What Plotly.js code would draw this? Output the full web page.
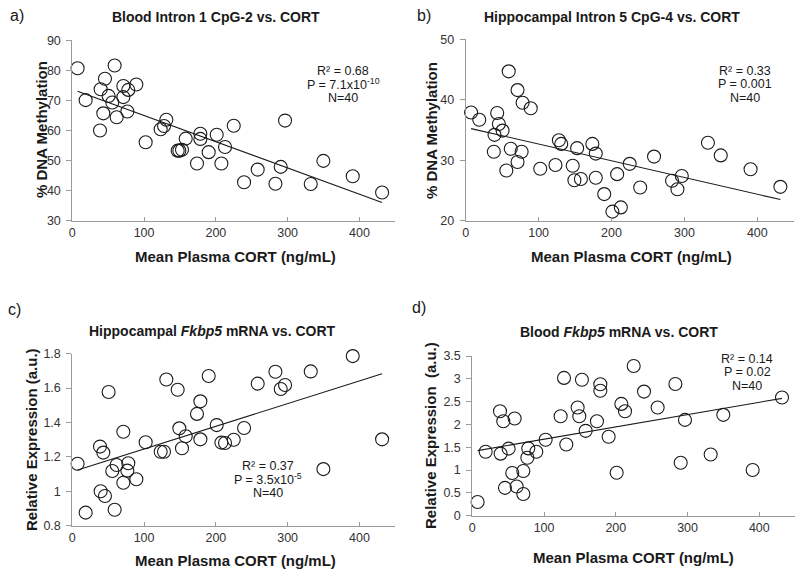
<!DOCTYPE html>
<html>
<head>
<meta charset="utf-8">
<script src="https://cdn.plot.ly/plotly-3.0.1.min.js"></script>
<style>html,body{margin:0;padding:0;background:#fff;}#chart{width:800px;height:574px;}</style>
</head>
<body>
<div id="chart"></div>
<script>
// Mean plasma CORT (ng/mL), shared by all panels
const cort = [7.4, 18.6, 38.6, 39.5, 43.2, 45.5, 50.6, 55.7, 59.0, 61.8, 71.1, 71.1, 76.7, 78.0, 89.2, 102.2, 123.1, 127.8, 131.0, 146.8, 149.1, 152.8, 158.0, 173.7, 178.4, 178.4, 190.0, 201.2, 207.7, 212.8, 224.9, 239.3, 258.3, 283.0, 290.4, 296.4, 332.2, 349.8, 390.7, 431.6];

// a) Blood Intron 1 CpG-2 % DNA methylation
const bloodIntron1 = [80.7, 70.1, 60.0, 73.7, 65.7, 77.2, 71.5, 69.3, 81.6, 64.4, 71.1, 74.8, 66.3, 73.5, 75.3, 56.1, 60.4, 61.5, 63.6, 53.3, 53.3, 53.6, 57.3, 49.0, 58.9, 57.2, 52.8, 58.6, 49.0, 54.5, 61.6, 42.8, 47.0, 42.3, 47.9, 63.3, 42.2, 49.9, 44.8, 39.4];

// b) Hippocampal Intron 5 CpG-4 % DNA methylation
const hippoIntron5 = [37.9, 36.7, 31.4, 34.2, 37.8, 36.0, 34.9, 28.3, 44.7, 31.9, 41.6, 29.7, 31.4, 39.5, 38.6, 28.6, 29.2, 33.3, 32.7, 29.1, 26.7, 32.0, 26.9, 32.7, 31.1, 27.1, 24.4, 21.5, 27.7, 22.2, 29.4, 25.5, 30.6, 26.6, 25.2, 27.4, 32.9, 30.8, 28.5, 25.6];

// c) Hippocampal Fkbp5 mRNA relative expression
const hippoFkbp5 = [1.16, 0.876, 1.26, 1.0, 1.225, 0.973, 1.577, 1.118, 0.893, 1.153, 1.346, 1.05, 1.12, 1.163, 1.07, 1.285, 1.23, 1.23, 1.65, 1.59, 1.366, 1.25, 1.32, 1.45, 1.523, 1.302, 1.67, 1.385, 1.283, 1.281, 1.3, 1.368, 1.626, 1.695, 1.595, 1.618, 1.697, 1.129, 1.786, 1.302];

// d) Blood Fkbp5 mRNA relative expression
const bloodFkbp5 = [0.30, 1.40, 2.29, 1.36, 2.07, 0.61, 1.47, 0.935, 2.13, 0.64, 0.98, 0.475, 1.27, 1.475, 1.40, 1.665, 2.18, 3.02, 1.56, 2.37, 2.18, 2.98, 1.86, 2.07, 2.88, 2.74, 1.73, 0.94, 2.45, 2.29, 3.28, 2.72, 2.37, 2.885, 1.16, 2.10, 1.34, 2.21, 1.0, 2.59];

const panelLabels = ["a)", "b)", "c)", "d)"];
const panelTitles = ["Blood Intron 1 CpG-2 vs. CORT", "Hippocampal Intron 5 CpG-4 vs. CORT", "Hippocampal <i>Fkbp5</i> mRNA vs. CORT", "Blood <i>Fkbp5</i> mRNA vs. CORT"];
const yTitles = ["% DNA Methylation", "% DNA Methylation", "Relative Expression (a.u.)", "Relative Expression&nbsp; (a.u.)"];
const xTitle = "Mean Plasma CORT (ng/mL)";
const rSquared = ["R² = 0.68", "R² = 0.33", "R² = 0.37", "R² = 0.14"];
const pValues = ["P = 7.1x10<sup>-10</sup>", "P = 0.001", "P = 3.5x10<sup>-5</sup>", "P = 0.02"];
const nText = ["N=40", "N=40", "N=40", "N=40"];
const yRanges = [[30, 90], [20, 50], [0.8, 1.8], [0, 3.5]];
const yDticks = [10, 10, 0.2, 0.5];
const xRange = [0, 450];

const series = [bloodIntron1, hippoIntron5, hippoFkbp5, bloodFkbp5];

const W = 800, H = 574;
const fx = v => v / W;
const fy = v => 1 - v / H;
const FONT = "Liberation Sans, Arial, Helvetica, sans-serif";

// panel geometry (pixels)
const geom = [
  {x0: 72.3, x1: 395.3, y0: 40.3, y1: 220.7, title: [216, 17], label: [17, 15], ytl: [41, 130], xtl: [235, 256], stats: [343, 71]},
  {x0: 465.7, x1: 793.8, y0: 39.3, y1: 220.7, title: [612, 17], label: [424, 15], ytl: [431, 130], xtl: [631, 256], stats: [745, 71]},
  {x0: 72.3, x1: 395.3, y0: 353.7, y1: 525.7, title: [212, 331], label: [14, 309], ytl: [31, 440], xtl: [235, 560], stats: [268, 466]},
  {x0: 472.3, x1: 795.2, y0: 356, y1: 515.7, title: [619, 332], label: [419, 307], ytl: [430, 436], xtl: [633, 557], stats: [747, 359]}
];

function fit(x, y) {
  const n = x.length;
  let sx = 0, sy = 0, sxx = 0, sxy = 0;
  for (let i = 0; i < n; i++) { sx += x[i]; sy += y[i]; sxx += x[i]*x[i]; sxy += x[i]*y[i]; }
  const b = (n*sxy - sx*sy) / (n*sxx - sx*sx);
  const a = (sy - b*sx) / n;
  return [a, b];
}

const data = [];
const layout = {
  width: W, height: H,
  margin: {l: 0, r: 0, t: 0, b: 0},
  paper_bgcolor: "#fff", plot_bgcolor: "#fff",
  showlegend: false,
  font: {family: FONT, color: "#222"},
  annotations: []
};

series.forEach((ys, i) => {
  const k = i === 0 ? "" : String(i + 1);
  const xa = "x" + k, ya = "y" + k;
  data.push({
    type: "scatter", mode: "markers", x: cort, y: ys, xaxis: xa, yaxis: ya,
    cliponaxis: false,
    marker: {symbol: "circle-open", size: 13, color: "#1a1a1a", line: {width: 1.1}},
    hoverinfo: "x+y"
  });
  const [a, b] = fit(cort, ys);
  const xmin = Math.min(...cort), xmax = Math.max(...cort);
  data.push({
    type: "scatter", mode: "lines", x: [xmin, xmax], y: [a + b*xmin, a + b*xmax],
    xaxis: xa, yaxis: ya, line: {color: "#1a1a1a", width: 1.1}, hoverinfo: "skip"
  });
  const g = geom[i];
  layout["xaxis" + k] = {
    domain: [fx(g.x0), fx(g.x1)], range: xRange, anchor: ya,
    tick0: 0, dtick: 100, showgrid: false, zeroline: false,
    showline: true, linecolor: "#9a9a9a", linewidth: 1,
    ticks: "inside", ticklen: 4, tickcolor: "#9a9a9a",
    tickfont: {family: FONT, size: 12.5, color: "#333"}
  };
  layout["yaxis" + k] = {
    domain: [fy(g.y1), fy(g.y0)], range: yRanges[i], anchor: xa,
    tick0: 0, dtick: yDticks[i], showgrid: false, zeroline: false,
    showline: true, linecolor: "#9a9a9a", linewidth: 1,
    ticks: "outside", ticklen: 5, tickcolor: "#9a9a9a", ticklabelstandoff: 3,
    tickfont: {family: FONT, size: 12.5, color: "#333"}
  };
  const ann = (x, y, text, size, extra) => Object.assign({
    xref: "paper", yref: "paper", x: fx(x), y: fy(y), text: text, showarrow: false,
    xanchor: "center", yanchor: "middle", font: {family: FONT, size: size, color: "#1a1a1a"}
  }, extra || {});
  layout.annotations.push(ann(g.title[0], g.title[1], "<b>" + panelTitles[i] + "</b>", 14));
  layout.annotations.push(ann(g.label[0], g.label[1], panelLabels[i], 16));
  layout.annotations.push(ann(g.ytl[0], g.ytl[1], "<b>" + yTitles[i] + "</b>", 15, {textangle: -90}));
  layout.annotations.push(ann(g.xtl[0], g.xtl[1], "<b>" + xTitle + "</b>", 15));
  layout.annotations.push(ann(g.stats[0], g.stats[1], rSquared[i], 12.5));
  layout.annotations.push(ann(g.stats[0], g.stats[1] + 13, pValues[i], 12.5));
  layout.annotations.push(ann(g.stats[0], g.stats[1] + 27, nText[i], 12.5));
});

Plotly.newPlot("chart", data, layout, {staticPlot: true, displayModeBar: false});
</script>
</body>
</html>
